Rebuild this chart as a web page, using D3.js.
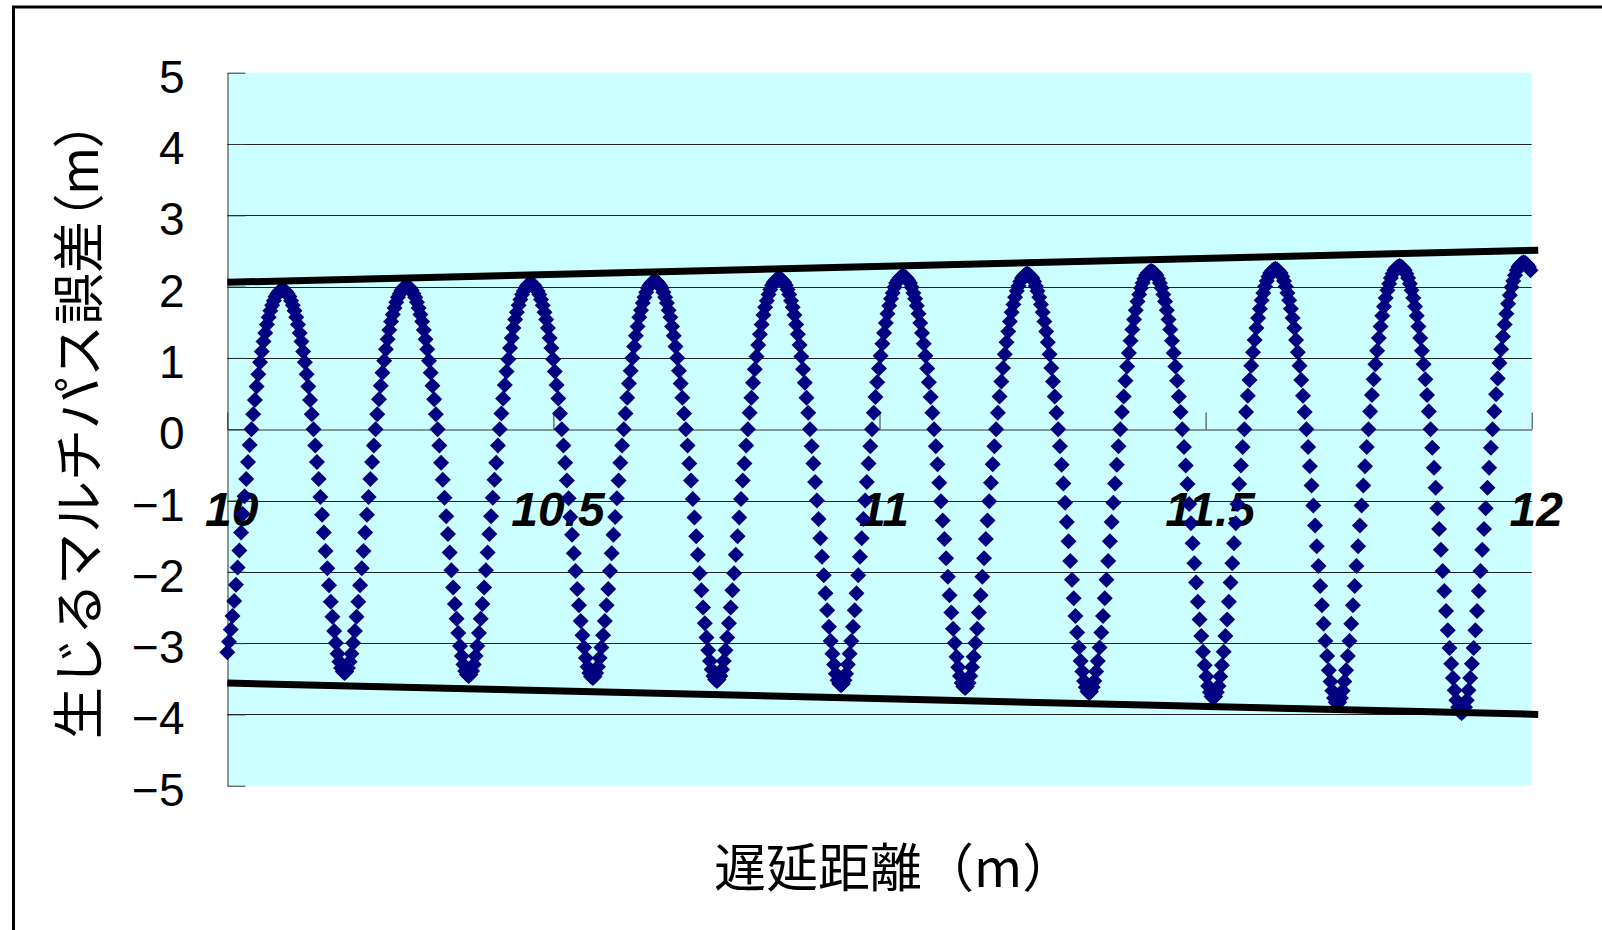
<!DOCTYPE html>
<html>
<head>
<meta charset="utf-8">
<script src="https://cdn.jsdelivr.net/npm/d3@7"></script>
<style>
  html, body { margin: 0; padding: 0; background: #ffffff; overflow: hidden; }
  svg { display: block; }
</style>
</head>
<body>
<svg id="chart" width="1602" height="930"></svg>
<script>
// ---------------- data ----------------
const xAxisTitle = "遅延距離（m）";
const yAxisTitleMain = "生じるマルチパス誤差";
const yAxisTitleUnit = "（m）";
const xTickValues = [10, 10.5, 11, 11.5, 12];
const yTickValues = [-5, -4, -3, -2, -1, 0, 1, 2, 3, 4, 5];
const xDomain = [10, 12];
const yDomain = [-5, 5];

// delay distance samples: start and spacing (m)
const delayStart = 10;
const delayStep = 0.0026431;

// multipath error (m) at each delay sample
const errorValues = [
-3.13,-2.98,-2.81,-2.62,-2.41,-2.18,-1.94,-1.70,-1.45,-1.19,-0.94,-0.70,-0.46,-0.22,0,
0.21,0.41,0.60,0.77,0.94,1.09,1.23,1.35,1.47,1.57,1.66,1.74,1.80,1.86,1.90,1.93,1.94,1.95,1.94,1.93,1.90,1.86,1.80,1.74,1.66,1.57,1.47,1.35,1.23,1.09,0.94,0.77,0.60,0.41,0.21,0,
-0.23,-0.46,-0.70,-0.95,-1.20,-1.45,-1.71,-1.95,-2.19,-2.42,-2.63,-2.83,-3.00,-3.15,-3.26,-3.35,-3.40,-3.42,-3.40,-3.35,-3.26,-3.15,-3.00,-2.83,-2.63,-2.42,-2.19,-1.95,-1.71,-1.45,-1.20,-0.95,-0.70,-0.46,-0.23,0,
0.21,0.42,0.61,0.79,0.96,1.12,1.26,1.39,1.51,1.61,1.70,1.78,1.85,1.90,1.95,1.98,1.99,2.00,1.99,1.98,1.95,1.90,1.85,1.78,1.70,1.61,1.51,1.39,1.26,1.12,0.96,0.79,0.61,0.42,0.21,0,
-0.23,-0.47,-0.71,-0.96,-1.22,-1.47,-1.73,-1.98,-2.22,-2.45,-2.66,-2.86,-3.04,-3.18,-3.30,-3.39,-3.44,-3.46,-3.44,-3.39,-3.30,-3.18,-3.04,-2.86,-2.66,-2.45,-2.22,-1.98,-1.73,-1.47,-1.22,-0.96,-0.71,-0.47,-0.23,0,
0.22,0.43,0.62,0.81,0.98,1.14,1.28,1.42,1.54,1.64,1.74,1.82,1.89,1.94,1.98,2.02,2.03,2.04,2.03,2.02,1.98,1.94,1.89,1.82,1.74,1.64,1.54,1.42,1.28,1.14,0.98,0.81,0.62,0.43,0.22,0,
-0.23,-0.47,-0.72,-0.97,-1.23,-1.48,-1.74,-1.99,-2.24,-2.47,-2.69,-2.89,-3.06,-3.21,-3.33,-3.42,-3.47,-3.49,-3.47,-3.42,-3.33,-3.21,-3.06,-2.89,-2.69,-2.47,-2.24,-1.99,-1.74,-1.48,-1.23,-0.97,-0.72,-0.47,-0.23,0,
0.22,0.44,0.64,0.82,1.00,1.16,1.31,1.44,1.57,1.67,1.77,1.85,1.92,1.98,2.02,2.05,2.07,2.08,2.07,2.05,2.02,1.98,1.92,1.85,1.77,1.67,1.57,1.44,1.31,1.16,1.00,0.82,0.64,0.44,0.22,0,
-0.23,-0.48,-0.72,-0.98,-1.24,-1.50,-1.76,-2.02,-2.26,-2.50,-2.72,-2.92,-3.10,-3.25,-3.37,-3.46,-3.51,-3.53,-3.51,-3.46,-3.37,-3.25,-3.10,-2.92,-2.72,-2.50,-2.26,-2.02,-1.76,-1.50,-1.24,-0.98,-0.72,-0.48,-0.23,0,
0.23,0.44,0.65,0.84,1.02,1.18,1.33,1.47,1.60,1.71,1.80,1.89,1.96,2.02,2.06,2.09,2.11,2.12,2.11,2.09,2.06,2.02,1.96,1.89,1.80,1.71,1.60,1.47,1.33,1.18,1.02,0.84,0.65,0.44,0.23,0,
-0.24,-0.48,-0.74,-1.00,-1.26,-1.53,-1.79,-2.05,-2.30,-2.54,-2.77,-2.97,-3.15,-3.30,-3.43,-3.52,-3.57,-3.59,-3.57,-3.52,-3.43,-3.30,-3.15,-2.97,-2.77,-2.54,-2.30,-2.05,-1.79,-1.53,-1.26,-1.00,-0.74,-0.48,-0.24,0,
0.23,0.45,0.66,0.85,1.03,1.20,1.35,1.49,1.62,1.73,1.83,1.91,1.99,2.05,2.09,2.12,2.14,2.15,2.14,2.12,2.09,2.05,1.99,1.91,1.83,1.73,1.62,1.49,1.35,1.20,1.03,0.85,0.66,0.45,0.23,0,
-0.24,-0.49,-0.75,-1.01,-1.28,-1.54,-1.81,-2.07,-2.33,-2.57,-2.80,-3.00,-3.19,-3.34,-3.46,-3.56,-3.61,-3.63,-3.61,-3.56,-3.46,-3.34,-3.19,-3.00,-2.80,-2.57,-2.33,-2.07,-1.81,-1.54,-1.28,-1.01,-0.75,-0.49,-0.24,0,
0.23,0.46,0.67,0.86,1.05,1.22,1.37,1.51,1.64,1.75,1.85,1.94,2.01,2.07,2.12,2.15,2.17,2.18,2.17,2.15,2.12,2.07,2.01,1.94,1.85,1.75,1.64,1.51,1.37,1.22,1.05,0.86,0.67,0.46,0.23,0,
-0.24,-0.50,-0.76,-1.03,-1.30,-1.57,-1.85,-2.11,-2.37,-2.62,-2.85,-3.06,-3.25,-3.40,-3.53,-3.62,-3.68,-3.70,-3.68,-3.62,-3.53,-3.40,-3.25,-3.06,-2.85,-2.62,-2.37,-2.11,-1.85,-1.57,-1.30,-1.03,-0.76,-0.50,-0.24,0,
0.24,0.46,0.68,0.88,1.07,1.24,1.40,1.54,1.67,1.79,1.89,1.98,2.05,2.11,2.16,2.19,2.21,2.22,2.21,2.19,2.16,2.11,2.05,1.98,1.89,1.79,1.67,1.54,1.40,1.24,1.07,0.88,0.68,0.46,0.24,0,
-0.25,-0.51,-0.77,-1.05,-1.32,-1.60,-1.88,-2.15,-2.42,-2.67,-2.90,-3.12,-3.31,-3.47,-3.60,-3.69,-3.75,-3.77,-3.75,-3.69,-3.60,-3.47,-3.31,-3.12,-2.90,-2.67,-2.42,-2.15,-1.88,-1.60,-1.32,-1.05,-0.77,-0.51,-0.25,0,
0.24,0.47,0.69,0.89,1.08,1.25,1.42,1.56,1.69,1.81,1.91,2.00,2.08,2.14,2.19,2.22,2.24,2.25,2.24,2.22,2.19,2.14,2.08,2.00,1.91,1.81,1.69,1.56,1.42,1.25,1.08,0.89,0.69,0.47,0.24,0,
-0.25,-0.52,-0.79,-1.07,-1.35,-1.64,-1.92,-2.20,-2.47,-2.73,-2.97,-3.18,-3.38,-3.54,-3.67,-3.77,-3.83,-3.85,-3.83,-3.77,-3.67,-3.54,-3.38,-3.18,-2.97,-2.73,-2.47,-2.20,-1.92,-1.64,-1.35,-1.07,-0.79,-0.52,-0.25,0,
0.25,0.48,0.70,0.91,1.10,1.28,1.44,1.59,1.72,1.84,1.95,2.04,2.12,2.18,2.23,2.26,2.28,2.29,2.28,2.26,2.23,2.18,2.12,2.04,1.95,1.84,1.72,1.59,1.44,1.28,1.10,0.91,0.70,0.48,0.25,0,
-0.26,-0.54,-0.82,-1.11,-1.40,-1.69,-1.99,-2.27,-2.55,-2.82,-3.07,-3.29,-3.49,-3.66,-3.80,-3.90,-3.96,-3.98,-3.96,-3.90,-3.80,-3.66,-3.49,-3.29,-3.07,-2.82,-2.55,-2.27,-1.99,-1.69,-1.40,-1.11,-0.82,-0.54,-0.26,0,
0.25,0.49,0.71,0.93,1.12,1.30,1.47,1.62,1.76,1.88,1.99,2.08,2.16,2.23,2.28,2.31,2.33,2.34,2.33,2.31,2.28,2.23
];

// envelope lines (two end points each)
const envelopeX = [10, 12.01];
const upperEnvelope = [2.06, 2.51];
const lowerEnvelope = [-3.56, -4.00];

// ---------------- drawing ----------------
const svg = d3.select("#chart");
const plot = { left: 227.3, right: 1531.7, top: 72.7, bottom: 785.7 };

const x = d3.scaleLinear().domain(xDomain).range([plot.left, plot.right]);
const y = d3.scaleLinear().domain(yDomain).range([plot.bottom, plot.top]);

// outer chart border (extends beyond the visible window on right/bottom)
svg.append("rect")
  .attr("x", 13.5).attr("y", 7)
  .attr("width", 3000).attr("height", 3000)
  .attr("fill", "none").attr("stroke", "#000").attr("stroke-width", 3);

// plot area background
svg.append("rect")
  .attr("x", plot.left).attr("y", plot.top)
  .attr("width", plot.right - plot.left).attr("height", plot.bottom - plot.top)
  .attr("fill", "#CCFFFF");

// horizontal gridlines
svg.append("g").selectAll("line")
  .data(yTickValues.filter(v => v !== yDomain[0] && v !== yDomain[1] && v !== 0))
  .join("line")
  .attr("x1", plot.left).attr("x2", plot.right)
  .attr("y1", d => Math.round(y(d)) + 0.5).attr("y2", d => Math.round(y(d)) + 0.5)
  .attr("stroke", "#222").attr("stroke-width", 1);

// y axis
const yAxis = d3.axisLeft(y)
  .tickValues(yTickValues)
  .tickSizeInner(-18)
  .tickSizeOuter(0)
  .tickPadding(43);
const gy = svg.append("g")
  .attr("transform", `translate(${Math.round(plot.left) + 0.5},0)`)
  .call(yAxis);
gy.select(".domain").attr("stroke", "#333");
gy.selectAll(".tick line").attr("stroke", "#333");
gy.selectAll(".tick text")
  .attr("dy", "0.36em")
  .attr("transform", "translate(0,3)")
  .style("font-family", "'Liberation Sans', Arial, sans-serif")
  .style("font-size", "46px")
  .attr("fill", "#000");

// x axis through y = 0
const xAxis = d3.axisBottom(x)
  .tickValues(xTickValues)
  .tickFormat(d => String(d))
  .tickSizeInner(-17)
  .tickSizeOuter(0);
const gx = svg.append("g")
  .attr("transform", `translate(0,${Math.round(y(0)) + 0.5})`)
  .call(xAxis);
gx.select(".domain").attr("stroke", "#333");
gx.selectAll(".tick line").attr("stroke", "#333");
gx.selectAll(".tick text")
  .attr("y", 96).attr("dy", 0).attr("dx", 4)
  .style("font-family", "'Liberation Sans', Arial, sans-serif")
  .style("font-size", "48px")
  .style("font-weight", "bold")
  .style("font-style", "italic")
  .attr("fill", "#000");

// data markers (diamonds)
const diamond = d3.symbol().type(d3.symbolSquare).size(128)();
svg.append("g").selectAll("path")
  .data(errorValues.map((v, i) => ({ dx: delayStart + i * delayStep, v })))
  .join("path")
  .attr("d", diamond)
  .attr("transform", d => `translate(${x(d.dx)},${y(d.v)}) rotate(45)`)
  .attr("fill", "#000080");

// envelope lines
const line = d3.line().x(d => x(d[0])).y(d => y(d[1]));
[upperEnvelope, lowerEnvelope].forEach(vals => {
  svg.append("path")
    .datum(envelopeX.map((xv, i) => [xv, vals[i]]))
    .attr("d", line)
    .attr("fill", "none")
    .attr("stroke", "#000")
    .attr("stroke-width", 7);
});

// axis titles
svg.append("text")
  .attr("x", 714).attr("y", 887)
  .style("font-family", "'Noto Sans CJK JP', sans-serif")
  .style("font-size", "52px")
  .attr("fill", "#000")
  .text(xAxisTitle);

const yt = svg.append("text")
  .attr("transform", "translate(98,739) rotate(-90)")
  .style("font-family", "'Noto Sans CJK JP', sans-serif")
  .style("font-size", "52px")
  .attr("fill", "#000");
yt.append("tspan").text(yAxisTitleMain);
yt.append("tspan").style("font-feature-settings", "'palt' 1").text(yAxisTitleUnit);
</script>
</body>
</html>
